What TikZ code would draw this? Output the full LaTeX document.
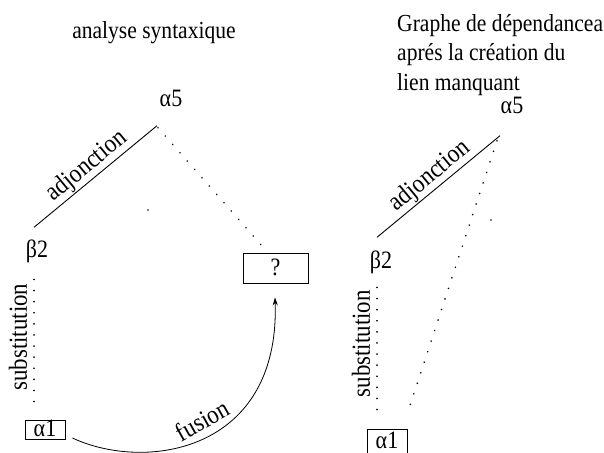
\documentclass[tikz,border=0pt]{standalone}
\usepackage{fontspec}
\setmainfont{Liberation Serif}[FakeStretch=0.88]
\usetikzlibrary{arrows.meta}

\begin{document}
\begin{tikzpicture}[
  x=1pt, y=-1pt,
  >={Stealth[length=8pt, width=5pt]},
  % --- Styles ---
  ttl/.style={font=\fontsize{24.5}{29.5}\selectfont, inner sep=0pt},
  tnode/.style={font=\fontsize{25}{27}\selectfont, inner sep=0pt,
    text height=16pt, text depth=4pt},
  tbox/.style={tnode, draw, line width=0.8pt, text height=15pt, text depth=1pt,
    minimum width=40pt, minimum height=19pt},
  elbl/.style={font=\fontsize{26}{28}\selectfont, inner sep=1pt, sloped, above},
  adjedge/.style={line width=0.9pt},
  depedge/.style={line width=1.7pt, line cap=round, dash pattern=on 0.1pt off 11pt},
]
\useasboundingbox (0,0) rectangle (604,452);

% === NODES ===
% 1. Titles
\node[ttl, anchor=base] (titleL) at (154,38) {analyse syntaxique};
\node[ttl, anchor=north west, align=left] (titleR) at (397,14)
  {Graphe de dépendancea\\aprés la création du\\lien manquant};
% 2. Syntactic analysis (left)
\node[tnode] (a5L) at (171,100) {α5};
\node[tnode] (b2L) at (37,251) {β2};
\node[tbox] (a1L) at (45,429.5) {α1};
\node[tbox, minimum width=65pt, minimum height=30pt] (qL) at (275.5,268) {?};
% 3. Dependency graph (right)
\node[tnode] (a5R) at (512,107) {α5};
\node[tnode] (b2R) at (381,262) {β2};
\node[tbox, minimum height=24pt] (a1R) at (387,441) {α1};

% === ARROWS ===
% Left tree
\draw[adjedge] ([shift={(-3,-13.5)}]b2L.north) --
  node[elbl] (adjL) {adjonction} ([shift={(-14,15.5)}]a5L.south);
\draw[depedge] ([shift={(-13,17.5)}]a5L.south) -- ([shift={(-8.5,-1)}]qL.north);
\draw[depedge] ([shift={(-11,-18)}]a1L.north) --
  node[elbl, above=5pt] (subL) {substitution} ([shift={(-3,11.5)}]b2L.south);
% Fusion
\draw[->, line width=0.8pt] ([shift={(7,8.5)}]a1L.east)
  .. controls +(73,34) and +(5,155) .. node[elbl, pos=0.53, above=6pt] (fusL) {fusion}
  ([shift={(-0.5,14)}]qL.south);
% Right graph
\draw[adjedge] ([shift={(-4,-14.5)}]b2R.north) --
  node[elbl] (adjR) {adjonction} ([shift={(-12,18.5)}]a5R.south);
\draw[depedge] ([shift={(-10,-19)}]a1R.north) --
  node[elbl, above=5pt] (subR) {substitution} ([shift={(-4,5.5)}]b2R.south);
\draw[depedge] ([shift={(-15,23.5)}]a5R.south) -- ([shift={(20,-14)}]a1R.north);
% Stray points
\fill (148,210) circle (0.9);
\fill (491,220) circle (0.9);
\end{tikzpicture}
\end{document}
